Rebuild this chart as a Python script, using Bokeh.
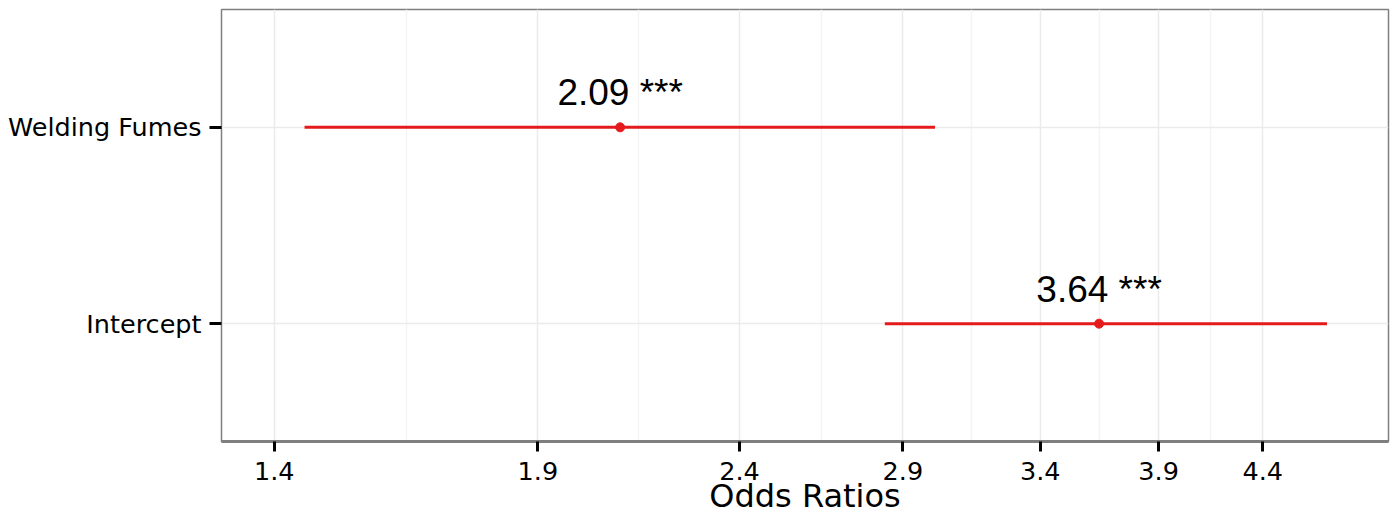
import math
from bokeh.plotting import figure
from bokeh.models import Range1d, FixedTicker, PrintfTickFormatter, ColumnDataSource
from bokeh.embed import file_html
from bokeh.resources import INLINE
from bokeh.core.properties import value

# ---- data ----
terms = ["Intercept", "Welding Fumes"]
odds_ratios = [3.64, 2.09]
ci_low = [2.84, 1.45]
ci_high = [4.74, 3.01]
signif = ["***", "***"]
x_ticks = [1.4, 1.9, 2.4, 2.9, 3.4, 3.9, 4.4]
x_limits = [1.317, 5.09]
x_title = "Odds Ratios"

RED = "#E41A1C"
GRID = "#EBEBEB"
GRID_MINOR = "#F4F4F4"

ypos = list(range(1, len(terms) + 1))
labels = [f"{v:.2f} {s}" for v, s in zip(odds_ratios, signif)]
minor = [math.sqrt(a * b) for a, b in zip(x_ticks[:-1], x_ticks[1:])]

src = ColumnDataSource(dict(
    y=ypos,
    ylab=[y + 0.175 for y in ypos],
    orv=odds_ratios,
    lo=ci_low,
    hi=ci_high,
    label=labels,
))

p = figure(width=1390, height=518, x_axis_type="log",
           x_range=Range1d(*x_limits),
           y_range=Range1d(0.4, len(terms) + 0.6),
           output_backend="svg", toolbar_location=None,
           min_border_left=221, min_border_right=2,
           min_border_top=9, min_border_bottom=77)

p.background_fill_color = "white"
p.border_fill_color = "white"
p.outline_line_color = "#7F7F7F"
p.outline_line_width = 1.5

xt = FixedTicker(ticks=x_ticks, minor_ticks=minor)
yt = FixedTicker(ticks=ypos, minor_ticks=[])
p.xaxis.ticker = xt
p.yaxis.ticker = yt
p.xgrid.ticker = xt
p.ygrid.ticker = yt
p.xaxis.formatter = PrintfTickFormatter(format="%.1f")
p.yaxis.major_label_overrides = {y: t for y, t in zip(ypos, terms)}

p.xgrid.grid_line_color = GRID
p.xgrid.grid_line_width = 1.5
p.xgrid.minor_grid_line_color = GRID_MINOR
p.xgrid.minor_grid_line_width = 1.5
p.ygrid.grid_line_color = GRID
p.ygrid.grid_line_width = 1.5

for ax in (p.xaxis, p.yaxis):
    ax.major_tick_line_color = "black"
    ax.major_tick_line_width = 3
    ax.major_tick_in = 0
    ax.minor_tick_line_color = None
    ax.major_label_text_font = "DejaVu Sans"
    ax.major_label_text_font_size = "25.5px"
    ax.major_label_text_color = "black"

p.xaxis.axis_line_color = "#7F7F7F"
p.xaxis.axis_line_width = 3
p.xaxis.major_tick_out = 10
p.xaxis.major_label_standoff = 10
p.xaxis.axis_label = x_title
p.xaxis.axis_label_text_font = "DejaVu Sans"
p.xaxis.axis_label_text_font_size = "32px"
p.xaxis.axis_label_text_font_style = "normal"
p.xaxis.axis_label_text_color = "black"
p.xaxis.axis_label_standoff = -6

p.yaxis.axis_line_color = None
p.yaxis.major_tick_out = 12
p.yaxis.major_label_standoff = 8

p.segment(x0="lo", y0="y", x1="hi", y1="y", line_color=RED, line_width=3, source=src)
p.scatter(x="orv", y="y", size=9, fill_color=RED, line_color=RED, source=src)
p.text(x="orv", y="ylab", text="label", text_font=value("Liberation Sans"),
       text_font_size="37px", text_align="center", text_baseline="alphabetic",
       text_color="black", source=src)

open("out.html", "w").write(file_html(p, INLINE))
